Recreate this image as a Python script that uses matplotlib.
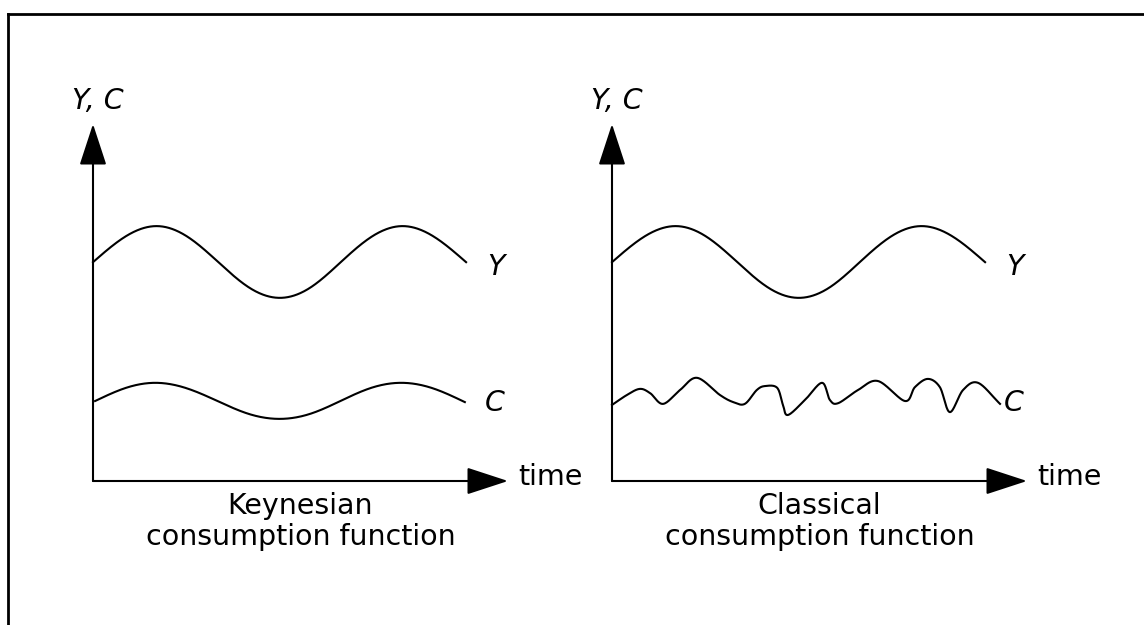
import numpy as np
import matplotlib
matplotlib.use("Agg")
import matplotlib.pyplot as plt
from matplotlib.lines import Line2D

# ---------------- data (time units, value units) ----------------
# Income Y (same in both panels)
y_t = [0.00, 0.77, 1.54, 2.28, 3.02, 3.76, 4.50, 5.24, 5.97, 6.71, 7.45, 8.22, 8.99]
y_v = [6.13, 6.84, 7.14, 6.84, 6.13, 5.42, 5.13, 5.42, 6.13, 6.84, 7.14, 6.84, 6.13]

# Keynesian consumption: smooth, follows Y with small amplitude
ck_t = [0.05, 0.77, 1.49, 2.25, 3.00, 3.75, 4.51, 5.23, 5.96, 6.68, 7.40, 8.18, 8.96]
ck_v = [2.24, 2.60, 2.75, 2.60, 2.24, 1.88, 1.74, 1.88, 2.24, 2.60, 2.75, 2.60, 2.21]

# Classical consumption: erratic
cc_t = [0.00, 0.36, 0.67, 0.92, 1.23, 1.64, 2.05, 2.60, 2.92, 3.20,
        3.49, 3.69, 3.98, 4.12, 4.24, 4.65, 5.06, 5.25, 5.45, 5.93,
        6.41, 7.06, 7.30, 7.61, 7.90, 8.14, 8.46, 8.82, 9.35]
cc_v = [2.13, 2.41, 2.58, 2.46, 2.16, 2.55, 2.89, 2.41, 2.21, 2.16,
        2.55, 2.66, 2.61, 2.13, 1.85, 2.27, 2.75, 2.27, 2.18, 2.55,
        2.80, 2.24, 2.63, 2.86, 2.63, 1.93, 2.55, 2.75, 2.16]

titles = ["Keynesian\nconsumption function", "Classical\nconsumption function"]
axis_label_y = "Y, C"
axis_label_x = "time"

# ---------------- helpers ----------------
def natural_spline(xs, ys, n=600):
    x = np.asarray(xs, float)
    y = np.asarray(ys, float)
    m = len(x)
    h = np.diff(x)
    A = np.zeros((m, m))
    b = np.zeros(m)
    A[0, 0] = A[-1, -1] = 1.0
    for i in range(1, m - 1):
        A[i, i - 1] = h[i - 1]
        A[i, i] = 2 * (h[i - 1] + h[i])
        A[i, i + 1] = h[i]
        b[i] = 6 * ((y[i + 1] - y[i]) / h[i] - (y[i] - y[i - 1]) / h[i - 1])
    M = np.linalg.solve(A, b)
    xx = np.linspace(x[0], x[-1], n)
    idx = np.clip(np.searchsorted(x, xx) - 1, 0, m - 2)
    x0, x1 = x[idx], x[idx + 1]
    hh = x1 - x0
    a = (x1 - xx) / hh
    c = (xx - x0) / hh
    yy = (a * y[idx] + c * y[idx + 1]
          + ((a ** 3 - a) * M[idx] + (c ** 3 - c) * M[idx + 1]) * hh ** 2 / 6)
    return xx, yy

def catmull_rom(xs, ys, n=40):
    P = np.column_stack([xs, ys]).astype(float)
    P = np.vstack([2 * P[0] - P[1], P, 2 * P[-1] - P[-2]])
    out = []
    tt = np.linspace(0, 1, n)[:, None]
    for i in range(len(P) - 3):
        p0, p1, p2, p3 = P[i], P[i + 1], P[i + 2], P[i + 3]
        seg = 0.5 * (2 * p1 + (-p0 + p2) * tt
                     + (2 * p0 - 5 * p1 + 4 * p2 - p3) * tt ** 2
                     + (-p0 + 3 * p1 - 3 * p2 + p3) * tt ** 3)
        out.append(seg if i == 0 else seg[1:])
    out = np.vstack(out)
    return out[:, 0], out[:, 1]

W, H = 1144, 625
fig = plt.figure(figsize=(W / 100, H / 100), dpi=100)
fig.patch.set_facecolor("white")

# frame (top and left lines visible)
fig.add_artist(Line2D([8 / W, 1.0], [1 - 14 / H, 1 - 14 / H], transform=fig.transFigure,
                      color="black", lw=2.0))
fig.add_artist(Line2D([8 / W, 8 / W], [0.0, 1 - 14 / H], transform=fig.transFigure,
                      color="black", lw=2.0))

FS = 20.5
lefts = [93, 612]
for k, left in enumerate(lefts):
    ax = fig.add_axes([left / W, 1 - 481 / H, 415 / W, 357 / H])
    ax.set_xlim(0, 10)
    ax.set_ylim(0, 10)
    ax.axis("off")

    arrow = dict(arrowstyle="-|>,head_length=2.6,head_width=0.85", mutation_scale=10,
                 lw=1.5, color="black", shrinkA=0, shrinkB=0)
    ax.annotate("", xy=(10, 0), xytext=(0, 0), arrowprops=arrow, annotation_clip=False)
    ax.annotate("", xy=(0, 10), xytext=(0, 0), arrowprops=arrow, annotation_clip=False)

    sx, sy = natural_spline(y_t, y_v)
    ax.plot(sx, sy, color="black", lw=1.5, clip_on=False, solid_joinstyle="round")
    if k == 0:
        cx, cy = natural_spline(ck_t, ck_v)
    else:
        cx, cy = catmull_rom(cc_t, cc_v, n=30)
    ax.plot(cx, cy, color="black", lw=1.5, clip_on=False, solid_joinstyle="round")

    ax.text(9.5, 6.0, "Y", fontsize=FS, style="italic", ha="left", va="center")
    ax.text(9.45, 2.18, "C", fontsize=FS, style="italic", ha="left", va="center")
    ax.text(0.12, 10.65, axis_label_y, fontsize=FS, style="italic", ha="center", va="center")
    ax.text(10.25, 0.1, axis_label_x, fontsize=FS, ha="left", va="center")
    ax.text(5.0, -0.3, titles[k], fontsize=FS, ha="center", va="top",
            multialignment="center", linespacing=1.15)

fig.savefig("out.png", dpi=100, facecolor="white")
